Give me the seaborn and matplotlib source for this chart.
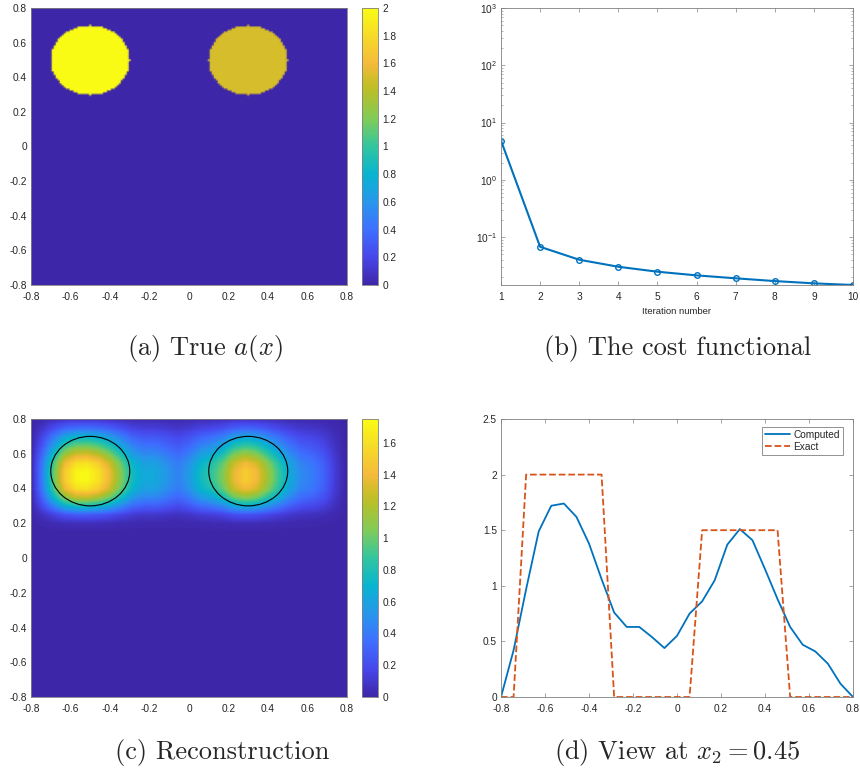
"""
Inverse problem figure: true coefficient, cost functional,
reconstruction and a horizontal cut at x2 = 0.45.
"""
import numpy as np
import pandas as pd
import matplotlib
matplotlib.use("Agg")
import matplotlib.pyplot as plt
from matplotlib.colors import LinearSegmentedColormap
from matplotlib.patches import Circle
import seaborn as sns

BLUE   = "#0072BD"
ORANGE = "#D95319"
GRID_C = "#808080"

# parula-like colormap anchors
PARULA = [
    (0.00, (0.2422, 0.1504, 0.6603)),
    (0.10, (0.2803, 0.2782, 0.9221)),
    (0.20, (0.2440, 0.4358, 0.9988)),
    (0.30, (0.1540, 0.5902, 0.9218)),
    (0.40, (0.0297, 0.7082, 0.8163)),
    (0.50, (0.1938, 0.7758, 0.6251)),
    (0.60, (0.5044, 0.7993, 0.3480)),
    (0.70, (0.7200, 0.7500, 0.1600)),
    (0.75, (0.8300, 0.7400, 0.1650)),
    (0.80, (0.9600, 0.7300, 0.2300)),
    (0.90, (0.9657, 0.8567, 0.1567)),
    (1.00, (0.9769, 0.9839, 0.0805)),
]
parula = LinearSegmentedColormap.from_list("parula", PARULA)

# (a) true coefficient: two discs
DISC_X      = [-0.5, 0.3]
DISC_Y      = [0.5, 0.5]
DISC_R      = 0.2
DISC_VALUES = [2.0, 1.5]

# (b) cost functional
ITERATIONS = [1, 2, 3, 4, 5, 6, 7, 8, 9, 10]
COST       = [4.84, 0.0678, 0.0403, 0.0304, 0.0249, 0.0215, 0.0191, 0.0171, 0.0156, 0.0146]

# (d) cut at x2 = 0.45
X_CUT = np.linspace(-0.8, 0.8, 29)
COMPUTED = [0.0, 0.42, 0.97, 1.49, 1.72, 1.74, 1.62, 1.38, 1.06, 0.76,
            0.63, 0.63, 0.54, 0.44, 0.55, 0.75, 0.86, 1.05, 1.37, 1.51,
            1.41, 1.15, 0.88, 0.63, 0.47, 0.41, 0.30, 0.12, 0.0]
EXACT    = [0.0, 0.0, 2.0, 2.0, 2.0, 2.0, 2.0, 2.0, 2.0, 0.0,
            0.0, 0.0, 0.0, 0.0, 0.0, 0.0, 1.5, 1.5, 1.5, 1.5,
            1.5, 1.5, 1.5, 0.0, 0.0, 0.0, 0.0, 0.0, 0.0]

# (c) vertical falloff of the reconstruction (relative to the x2 = 0.45 cut)
Y_FALL = [-0.8, 0.15, 0.2, 0.25, 0.3, 0.35, 0.4, 0.45, 0.5, 0.55, 0.6, 0.65, 0.7, 0.75, 0.8]
G_FALL = [0.0, 0.0, 0.03, 0.15, 0.44, 0.72, 0.93, 1.0, 1.0, 0.93, 0.76, 0.58, 0.41, 0.21, 0.06]

TICKS = [-0.8, -0.6, -0.4, -0.2, 0, 0.2, 0.4, 0.6, 0.8]

sns.set_style("white")
plt.rcParams["font.family"] = ["Liberation Sans", "DejaVu Sans"]
plt.rcParams["axes.unicode_minus"] = False
plt.rcParams["mathtext.fontset"] = "cm"
plt.rcParams["mathtext.default"] = "regular"

TICK_FS = 7.3


def style_axes(ax, box_ticks=True):
    for s in ax.spines.values():
        s.set_color(GRID_C)
        s.set_linewidth(0.6)
    ax.tick_params(direction="in", length=3, width=0.5, color=GRID_C,
                   labelsize=TICK_FS, labelcolor="#262626",
                   top=box_ticks, right=box_ticks, bottom=box_ticks, left=box_ticks)
    ax.tick_params(axis="x", pad=5)
    ax.tick_params(axis="y", pad=3)


def fmt(v):
    return f"{v:g}"


def image_panel(ax, cax, xg, yg, field, vmax, cticks):
    im = ax.pcolormesh(xg, yg, field, shading="gouraud", cmap=parula, vmin=0, vmax=vmax)
    ax.set_xlim(-0.8, 0.8)
    ax.set_ylim(-0.8, 0.8)
    ax.set_xticks(TICKS)
    ax.set_yticks(TICKS)
    ax.set_xticklabels([fmt(t) for t in TICKS])
    ax.set_yticklabels([fmt(t) for t in TICKS])
    style_axes(ax, box_ticks=False)
    ax.tick_params(length=0)
    cb = plt.colorbar(im, cax=cax, ticks=cticks)
    cb.ax.set_yticklabels([fmt(round(t, 1)) for t in cticks])
    cb.ax.tick_params(direction="in", length=2.5, width=0.5, color=GRID_C,
                      labelsize=TICK_FS, labelcolor="#262626", pad=3)
    cb.outline.set_edgecolor(GRID_C)
    cb.outline.set_linewidth(0.6)
    return im


fig = plt.figure(figsize=(8.6, 7.77), dpi=100)
W, H = 860.0, 777.0
ax_a  = fig.add_axes([31 / W, 1 - 285 / H, 316 / W, 277 / H])
cax_a = fig.add_axes([362 / W, 1 - 285 / H, 16 / W, 277 / H])
ax_b  = fig.add_axes([501 / W, 1 - 285 / H, 352 / W, 277 / H])
ax_c  = fig.add_axes([31 / W, 1 - 697 / H, 316 / W, 278 / H])
cax_c = fig.add_axes([362 / W, 1 - 697 / H, 16 / W, 278 / H])
ax_d  = fig.add_axes([501 / W, 1 - 697 / H, 352 / W, 278 / H])

# (a) true a(x)
g = np.linspace(-0.8, 0.8, 161)
XX, YY = np.meshgrid(g, g)
true_a = np.zeros_like(XX)
for cx, cy, v in zip(DISC_X, DISC_Y, DISC_VALUES):
    true_a[(XX - cx) ** 2 + (YY - cy) ** 2 <= DISC_R ** 2] = v
image_panel(ax_a, cax_a, g, g, true_a, 2.0, np.arange(0, 2.01, 0.2))

# (b) cost functional
cost_df = pd.DataFrame({"iter": ITERATIONS, "cost": COST})
sns.lineplot(data=cost_df, x="iter", y="cost", ax=ax_b, color=BLUE, lw=1.5,
             marker="o", markersize=4, markerfacecolor="none",
             markeredgecolor=BLUE, markeredgewidth=1.0)
ax_b.set_yscale("log")
ax_b.set_xlim(1, 10)
ax_b.set_ylim(COST[-1], 1e3)
ax_b.set_xticks(ITERATIONS)
ax_b.set_ylabel("")
ax_b.set_xlabel("Iteration number", fontsize=6.8, color="#262626", labelpad=4)
style_axes(ax_b)
ax_b.tick_params(which="minor", direction="in", length=1.5, width=0.4, color=GRID_C,
                 right=True, left=True)

# (c) reconstruction
fine = np.linspace(-0.8, 0.8, 321)
prof_x = np.interp(fine, X_CUT, COMPUTED)
prof_y = np.interp(fine, Y_FALL, G_FALL)
recon = np.outer(prof_y, prof_x)
image_panel(ax_c, cax_c, fine, fine, recon, 1.75, np.arange(0, 1.61, 0.2))
for cx, cy in zip(DISC_X, DISC_Y):
    ax_c.add_patch(Circle((cx, cy), DISC_R, fill=False, color="black", lw=0.8))

# (d) view at x2 = 0.45
cut_df = pd.DataFrame({"x": X_CUT, "Computed": COMPUTED, "Exact": EXACT})
sns.lineplot(data=cut_df, x="x", y="Computed", ax=ax_d, color=BLUE, lw=1.3, label="Computed")
sns.lineplot(data=cut_df, x="x", y="Exact", ax=ax_d, color=ORANGE, lw=1.3,
             linestyle="--", label="Exact")
ax_d.set_xlim(-0.8, 0.8)
ax_d.set_ylim(0, 2.5)
ax_d.set_xticks(TICKS)
ax_d.set_xticklabels([fmt(t) for t in TICKS])
ax_d.set_yticks([0, 0.5, 1, 1.5, 2, 2.5])
ax_d.set_yticklabels(["0", "0.5", "1", "1.5", "2", "2.5"])
ax_d.set_xlabel("")
ax_d.set_ylabel("")
style_axes(ax_d)
leg = ax_d.legend(loc="upper right", fontsize=7.3, frameon=True, fancybox=False,
                  framealpha=1, edgecolor=GRID_C, handlelength=2.5,
                  borderpad=0.3, labelspacing=0.2, handletextpad=0.3,
                  bbox_to_anchor=(0.985, 0.99))
leg.get_frame().set_linewidth(0.6)

# subcaptions
cap = dict(ha="center", va="center", fontsize=19, family="cmr10")
fig.text(205 / W, 1 - 348 / H, r"(a) True $\mathit{a}(\mathit{x})$", **cap)
fig.text(678 / W, 1 - 348 / H, r"(b) The cost functional", **cap)
fig.text(222 / W, 1 - 752 / H, r"(c) Reconstruction", **cap)
fig.text(677 / W, 1 - 752 / H, r"(d) View at $\mathit{x}_2 = 0.45$", **cap)

fig.savefig("out.png", dpi=100)
plt.close(fig)
